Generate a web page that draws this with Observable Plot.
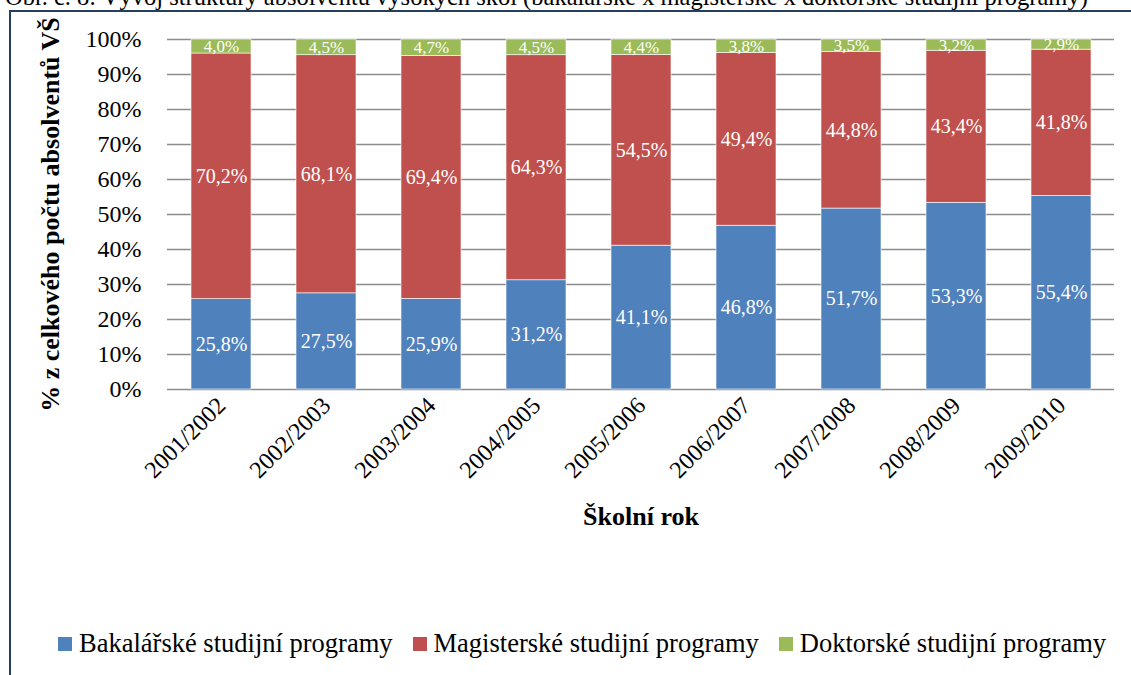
<!DOCTYPE html>
<html>
<head>
<meta charset="utf-8">
<script src="https://cdn.jsdelivr.net/npm/d3@7"></script>
<script src="https://cdn.jsdelivr.net/npm/@observablehq/plot@0.6"></script>
<style>
  html, body { margin: 0; padding: 0; background: #fff; }
  #wrap { position: relative; width: 1131px; height: 675px; overflow: hidden; font-family: "Liberation Serif", "Times New Roman", Times, "DejaVu Serif", serif; }
  #title { position: absolute; left: 5px; top: -15px; font-size: 24.5px; line-height: 24.5px; white-space: nowrap; color: #000; }
  #frame { position: absolute; left: 9px; top: 10px; width: 1140px; height: 700px; border-left: 2px solid #243F60; border-top: 2px solid #243F60; }
  #chart { position: absolute; left: 0; top: 0; }
  #legend { position: absolute; top: 628px; left: 58px; display: flex; align-items: center; font-size: 26.5px; white-space: nowrap; color: #000; }
  .item { display: flex; align-items: center; margin-right: 20px; }
  .sw { width: 14px; height: 14px; margin-right: 7px; }
</style>
</head>
<body>
<div id="wrap">
  <div id="title">Obr. č. 8: Vývoj struktury absolventů vysokých škol (bakalářské x magisterské x doktorské studijní programy)</div>
  <div id="frame"></div>
  <div id="chart"></div>
  <div id="legend"></div>
</div>
<script>
const years = ["2001/2002","2002/2003","2003/2004","2004/2005","2005/2006","2006/2007","2007/2008","2008/2009","2009/2010"];
const seriesNames = ["Bakalářské studijní programy","Magisterské studijní programy","Doktorské studijní programy"];
const seriesColors = ["#4F81BD","#C0504D","#9BBB59"];
const bakalarske = [25.8,27.5,25.9,31.2,41.1,46.8,51.7,53.3,55.4];
const magisterske = [70.2,68.1,69.4,64.3,54.5,49.4,44.8,43.4,41.8];
const doktorske = [4.0,4.5,4.7,4.5,4.4,3.8,3.5,3.2,2.9];
const yTicks = [0,0.1,0.2,0.3,0.4,0.5,0.6,0.7,0.8,0.9,1];

const seriesValues = [bakalarske, magisterske, doktorske];
const data = [];
seriesNames.forEach((s, i) => years.forEach((y, j) => data.push({year: y, series: s, value: seriesValues[i][j]})));

const fmt = v => v.toFixed(1).replace(".", ",") + "%";
const serif = "'Liberation Serif', 'Times New Roman', Times, 'DejaVu Serif', serif";

const stackOpts = {x: "year", y: "value", z: "series", order: seriesNames, offset: "normalize"};

const chart = Plot.plot({
  width: 1131,
  height: 560,
  marginLeft: 167,
  marginRight: 17,
  marginTop: 39,
  marginBottom: 171,
  style: {fontFamily: serif, fontSize: "24px", background: "transparent", color: "#000"},
  x: {domain: years, paddingInner: 0.43, paddingOuter: 0.215},
  y: {domain: [0, 1]},
  color: {domain: seriesNames, range: seriesColors},
  marks: [
    Plot.gridY(yTicks, {stroke: "#8c8c8c", strokeOpacity: 1, strokeWidth: 1.5}),
    Plot.barY(data, Plot.stackY({...stackOpts, fill: "series", stroke: "white", strokeWidth: 0.6})),
    Plot.text(data, Plot.stackY({...stackOpts, text: d => d.series !== seriesNames[2] ? fmt(d.value) : null, fill: "white", fontSize: 20, fontFamily: serif})),
    Plot.text(data, Plot.stackY({...stackOpts, text: d => d.series === seriesNames[2] ? fmt(d.value) : null, fill: "white", fontSize: 17, fontFamily: serif})),
    Plot.axisY({ticks: yTicks, tickFormat: d => Math.round(d * 100) + "%", tickSize: 0, tickPadding: 26, fontSize: 24, fontFamily: serif,
      label: "% z celkového počtu absolventů VŠ", labelAnchor: "center", labelOffset: 127, labelArrow: "none"}),
    Plot.axisX({tickRotate: -45, tickSize: 0, tickPadding: 12, fontSize: 24, fontFamily: serif,
      label: "Školní rok", labelAnchor: "center", labelOffset: 135, labelArrow: "none"})
  ]
});

chart.querySelectorAll("g[aria-label='y-axis label'] text, g[aria-label='x-axis label'] text").forEach(t => {
  t.setAttribute("font-weight", "bold");
  t.setAttribute("font-size", "26px");
});
document.getElementById("chart").appendChild(chart);

const legend = document.getElementById("legend");
seriesNames.forEach((s, i) => {
  const item = document.createElement("div");
  item.className = "item";
  const sw = document.createElement("div");
  sw.className = "sw";
  sw.style.background = seriesColors[i];
  const lab = document.createElement("span");
  lab.textContent = s;
  item.appendChild(sw);
  item.appendChild(lab);
  legend.appendChild(item);
});
</script>
</body>
</html>
